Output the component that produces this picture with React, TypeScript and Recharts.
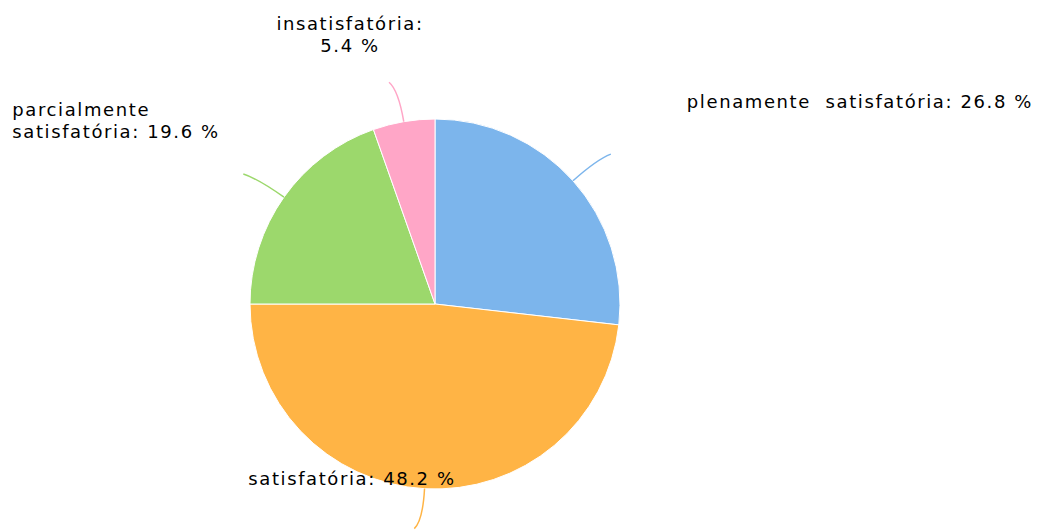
import { PieChart, Pie, Cell } from "recharts";

document.body.style.margin = "0";

const categories = [
  "plenamente  satisfatória",
  "satisfatória",
  "parcialmente satisfatória",
  "insatisfatória",
];
const percentages = [26.8, 48.2, 19.6, 5.4];
const colors = ["#7cb5ec", "#ffb445", "#9cd86c", "#ffa6c7"];

// label text lines, split where the original wraps
const labelLines = [
  ["plenamente  satisfatória: 26.8 %"],
  ["satisfatória: 48.2 %"],
  ["parcialmente", "satisfatória: 19.6 %"],
  ["insatisfatória:", "5.4 %"],
];
// offset of the label from the leader line end
const labelOffsets = [
  { dx: 76, dy: -46, anchor: "start" },
  { dx: -166, dy: -44, anchor: "start" },
  { dx: -231, dy: -58, anchor: "start" },
  { dx: -39, dy: -52, anchor: "middle" },
];

const data = categories.map((name, i) => ({ name, value: percentages[i] }));

const RAD = Math.PI / 180;

const renderLabel = (props: any) => {
  const { cx, cy, midAngle, outerRadius, index } = props;
  const cos = Math.cos(-midAngle * RAD);
  const sin = Math.sin(-midAngle * RAD);
  const sx = cx + outerRadius * cos;
  const sy = cy + outerRadius * sin;
  const mx = cx + (outerRadius + 32) * cos;
  const my = cy + (outerRadius + 32) * sin;
  const ex = cx + (outerRadius + 40) * cos + (cos >= 0 ? 8 : -8);
  const ey = cy + (outerRadius + 40) * sin;
  const off = labelOffsets[index];
  const lines = labelLines[index];
  return (
    <g key={`label-${index}`}>
      <path
        d={`M${sx},${sy} Q${mx},${my} ${ex},${ey}`}
        stroke={colors[index]}
        strokeWidth={1.5}
        fill="none"
      />
      <text
        x={ex + off.dx}
        y={ey + off.dy}
        textAnchor={off.anchor as any}
        fill="#000"
        fontFamily="DejaVu Sans"
        fontSize={18}
        letterSpacing={1.6}
        style={{ whiteSpace: "pre" }}
      >
        {lines.map((line, j) => (
          <tspan key={j} x={ex + off.dx} dy={j === 0 ? 0 : 22}>
            {line}
          </tspan>
        ))}
      </text>
    </g>
  );
};

const App: React.FC = () => {
  return (
    <PieChart
      width={1040}
      height={532}
      margin={{ top: 0, right: 0, bottom: 0, left: 0 }}
    >
      <Pie
        data={data}
        dataKey="value"
        nameKey="name"
        cx={435}
        cy={304}
        outerRadius={185}
        startAngle={90}
        endAngle={-270}
        stroke="#fff"
        strokeWidth={1}
        label={renderLabel}
        labelLine={false}
        isAnimationActive={false}
      >
        {data.map((entry, i) => (
          <Cell key={entry.name} fill={colors[i]} />
        ))}
      </Pie>
    </PieChart>
  );
};

export default App;
